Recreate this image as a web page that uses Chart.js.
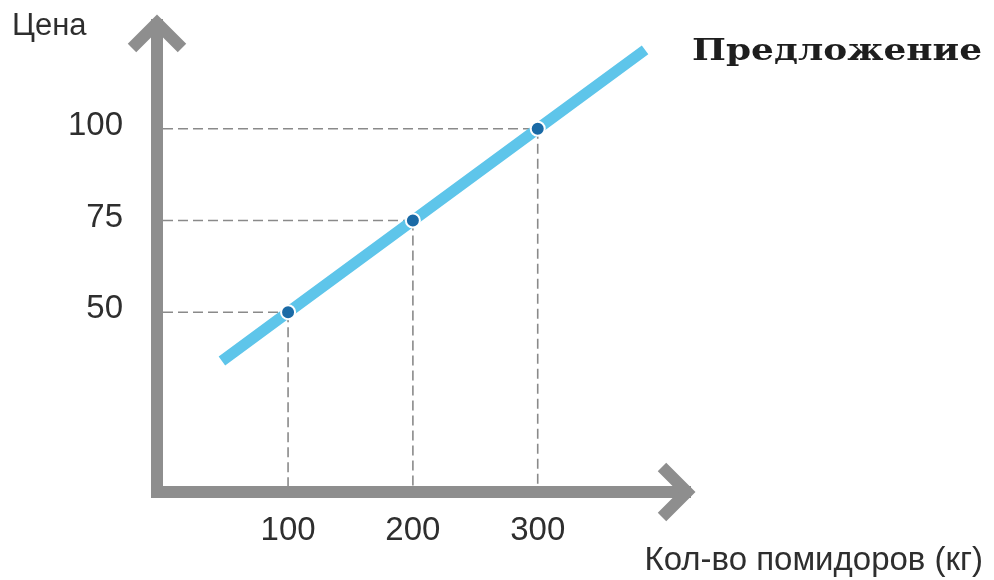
<!DOCTYPE html>
<html lang="ru">
<head>
<meta charset="utf-8">
<title>Предложение</title>
<script src="https://cdn.jsdelivr.net/npm/chart.js@4/dist/chart.umd.min.js"></script>
<style>
  html, body { margin: 0; padding: 0; background: #ffffff; }
  #wrap { width: 994px; height: 580px; position: relative; }
</style>
</head>
<body>
<div id="wrap"><canvas id="supply"></canvas></div>
<script>
// Supply curve: quantity of tomatoes (kg) against price
const seriesLabel = 'Предложение';
const yAxisLabel = 'Цена';
const xAxisLabel = 'Кол-во помидоров (кг)';

const quantityTicks = [100, 200, 300];
const priceTicks = [50, 75, 100];

// line runs from its lower end, through the three marked points, to its upper end
const supplyQuantity = [47, 100, 200, 300, 386];
const supplyPrice = [36.7, 50, 75, 100, 121.5];
const markerRadius = [0, 7, 7, 7, 0];

const AXIS_COLOR = '#8e8e8e';
const GUIDE_COLOR = '#8a8a8a';
const TEXT_COLOR = '#2e2e2e';
const SANS = '"Liberation Sans", Arial, Helvetica, sans-serif';

const supplyPoints = supplyQuantity.map((q, i) => ({ x: q, y: supplyPrice[i] }));

// dashed guides, thick arrowed axes and free-standing labels
const decorations = {
  id: 'decorations',
  beforeDatasetsDraw(chart) {
    const { ctx, chartArea: a, scales: { x, y } } = chart;
    ctx.save();

    // dashed guides from each marked point to both axes
    ctx.strokeStyle = GUIDE_COLOR;
    ctx.lineWidth = 1.6;
    ctx.setLineDash([10, 5]);
    supplyPoints.forEach((p, i) => {
      if (!markerRadius[i]) return;
      const px = x.getPixelForValue(p.x);
      const py = y.getPixelForValue(p.y);
      ctx.beginPath();
      ctx.moveTo(a.left + 6, py);
      ctx.lineTo(px, py);
      ctx.moveTo(px, py);
      ctx.lineTo(px, a.bottom - 6);
      ctx.stroke();
    });
    ctx.setLineDash([]);

    // axes as one thick L with chevron arrowheads
    const w = 12;
    ctx.strokeStyle = AXIS_COLOR;
    ctx.lineWidth = w;
    ctx.lineJoin = 'miter';
    ctx.lineCap = 'butt';
    ctx.beginPath();
    ctx.moveTo(a.left, a.top + 4);
    ctx.lineTo(a.left, a.bottom);
    ctx.lineTo(a.right - 4, a.bottom);
    ctx.stroke();

    const arm = 25;
    ctx.beginPath();
    ctx.moveTo(a.left - arm, a.top + 8 + arm);
    ctx.lineTo(a.left, a.top + 8);
    ctx.lineTo(a.left + arm, a.top + 8 + arm);
    ctx.stroke();
    ctx.beginPath();
    ctx.moveTo(a.right - 8 - arm, a.bottom - arm);
    ctx.lineTo(a.right - 8, a.bottom);
    ctx.lineTo(a.right - 8 - arm, a.bottom + arm);
    ctx.stroke();

    ctx.restore();
  },
  afterDatasetsDraw(chart) {
    const { ctx } = chart;
    ctx.save();
    ctx.fillStyle = TEXT_COLOR;

    // y axis name, top left
    ctx.font = '31px ' + SANS;
    ctx.textAlign = 'left';
    ctx.textBaseline = 'alphabetic';
    ctx.fillText(yAxisLabel, 12, 35);

    // x axis name, bottom right
    ctx.font = '33px ' + SANS;
    ctx.textAlign = 'right';
    ctx.fillText(xAxisLabel, 983, 570);

    // series name beside the upper end of the line, in a wide slab serif
    const meta = chart.getDatasetMeta(0);
    const last = meta.data[meta.data.length - 1];
    const name = chart.data.datasets[0].label;
    ctx.fillStyle = '#1e1e1e';
    ctx.font = 'bold 30px "DejaVu Serif", "Liberation Serif", serif';
    ctx.textAlign = 'left';
    ctx.textBaseline = 'middle';
    const tw = ctx.measureText(name).width;
    const sx = 290 / tw;
    ctx.translate(last.x + 47, last.y + 2);
    ctx.scale(sx, 1);
    ctx.fillText(name, 0, 0);
    ctx.restore();
  }
};

new Chart(document.getElementById('supply'), {
  type: 'line',
  data: {
    datasets: [{
      label: seriesLabel,
      data: supplyPoints,
      borderColor: '#5ec5ea',
      borderWidth: 11,
      borderCapStyle: 'butt',
      tension: 0,
      fill: false,
      pointRadius: markerRadius,
      pointHoverRadius: markerRadius,
      pointBackgroundColor: '#1a6aa6',
      pointBorderColor: '#ffffff',
      pointBorderWidth: 2
    }]
  },
  options: {
    responsive: true,
    maintainAspectRatio: false,
    animation: false,
    events: [],
    layout: { padding: { left: 0, top: 15, right: 299, bottom: 0 } },
    plugins: {
      legend: { display: false },
      tooltip: { enabled: false },
      title: { display: false }
    },
    scales: {
      x: {
        type: 'linear',
        min: -5,
        max: 426,
        border: { display: false },
        grid: { display: false, drawTicks: false },
        afterBuildTicks(scale) { scale.ticks = quantityTicks.map(v => ({ value: v })); },
        afterFit(scale) {
          scale.height = 88;
          scale.paddingLeft = 0;
          scale.paddingRight = 0;
        },
        ticks: {
          padding: 19,
          color: TEXT_COLOR,
          font: { family: SANS, size: 33 },
          maxRotation: 0,
          autoSkip: false,
          callback: v => String(v)
        }
      },
      y: {
        type: 'linear',
        min: 1,
        max: 131,
        border: { display: false },
        grid: { display: false, drawTicks: false },
        afterBuildTicks(scale) { scale.ticks = priceTicks.map(v => ({ value: v })); },
        afterFit(scale) {
          scale.width = 157;
          scale.paddingTop = 0;
          scale.paddingBottom = 0;
        },
        ticks: {
          padding: 34,
          labelOffset: -3,
          color: TEXT_COLOR,
          font: { family: SANS, size: 33 },
          autoSkip: false,
          callback: v => String(v)
        }
      }
    }
  },
  plugins: [decorations]
});
</script>
</body>
</html>
